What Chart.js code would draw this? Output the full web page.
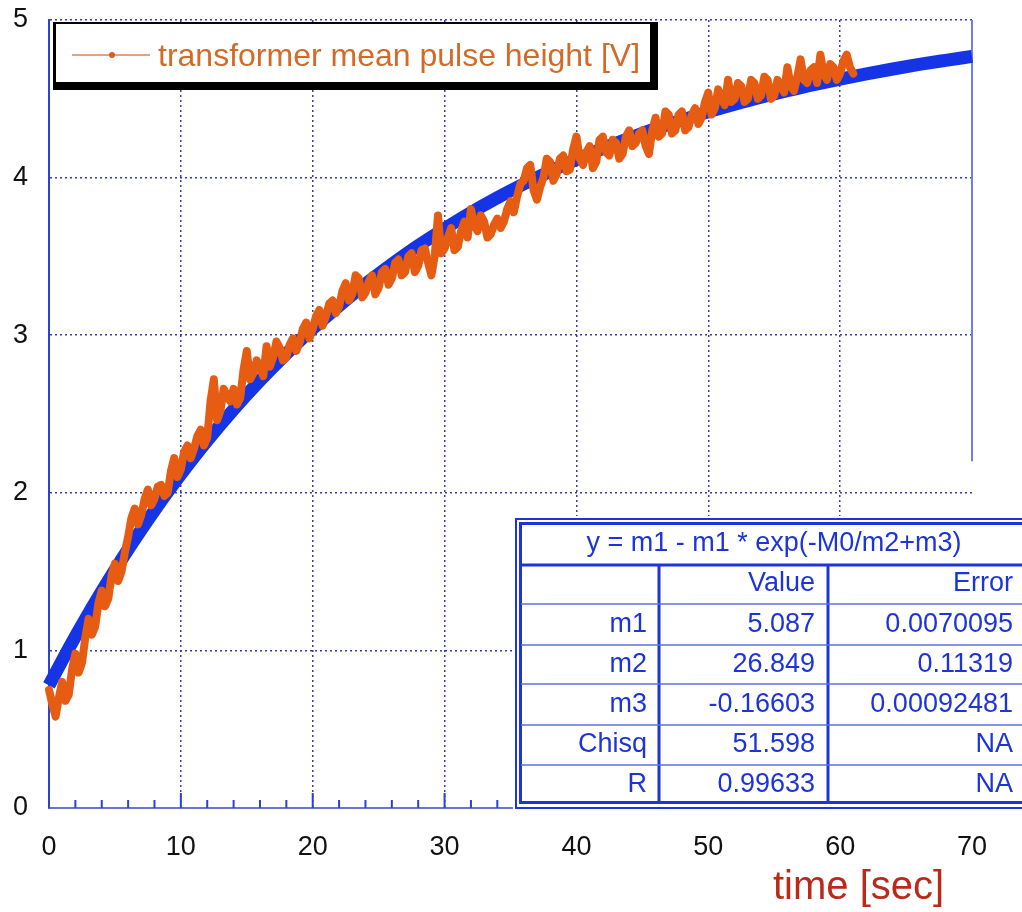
<!DOCTYPE html>
<html><head><meta charset="utf-8">
<script src="https://cdn.jsdelivr.net/npm/chart.js@4/dist/chart.umd.min.js"></script>
<style>html,body{margin:0;padding:0;background:#fff}canvas{display:block}</style>
</head><body>
<canvas id="c" width="1022" height="912"></canvas>
<script>
// ---- data ----
const pulseTime = [
  0,0.25,0.5,0.75, 1,1.25,1.5,1.75, 2,2.25,2.5,2.75, 3,3.25,3.5,3.75, 4,4.25,4.5,4.75,
  5,5.25,5.5,5.75, 6,6.25,6.5,6.75, 7,7.25,7.5,7.75, 8,8.25,8.5,8.75, 9,9.25,9.5,9.75,
  10,10.25,10.5,10.75, 11,11.25,11.5,11.75, 12,12.25,12.5,12.75, 13,13.25,13.5,13.75, 14,14.25,14.5,14.75,
  15,15.25,15.5,15.75, 16,16.25,16.5,16.75, 17,17.25,17.5,17.75, 18,18.25,18.5,18.75, 19,19.25,19.5,19.75,
  20,20.25,20.5,20.75, 21,21.25,21.5,21.75, 22,22.25,22.5,22.75, 23,23.25,23.5,23.75, 24,24.25,24.5,24.75,
  25,25.25,25.5,25.75, 26,26.25,26.5,26.75, 27,27.25,27.5,27.75, 28,28.25,28.5,28.75, 29,29.25,29.5,29.75,
  30,30.25,30.5,30.75, 31,31.25,31.5,31.75, 32,32.25,32.5,32.75, 33,33.25,33.5,33.75, 34,34.25,34.5,34.75,
  35,35.25,35.5,35.75, 36,36.25,36.5,36.75, 37,37.25,37.5,37.75, 38,38.25,38.5,38.75, 39,39.25,39.5,39.75,
  40,40.25,40.5,40.75, 41,41.25,41.5,41.75, 42,42.25,42.5,42.75, 43,43.25,43.5,43.75, 44,44.25,44.5,44.75,
  45,45.25,45.5,45.75, 46,46.25,46.5,46.75, 47,47.25,47.5,47.75, 48,48.25,48.5,48.75, 49,49.25,49.5,49.75,
  50,50.25,50.5,50.75, 51,51.25,51.5,51.75, 52,52.25,52.5,52.75, 53,53.25,53.5,53.75, 54,54.25,54.5,54.75,
  55,55.25,55.5,55.75, 56,56.25,56.5,56.75, 57,57.25,57.5,57.75, 58,58.25,58.5,58.75, 59,59.25,59.5,59.75,
  60,60.25,60.5,60.75, 61];
const pulseHeight = [
  0.75,0.66,0.58,0.70, 0.80,0.68,0.72,0.88, 0.98,0.86,0.92,1.08, 1.20,1.10,1.15,1.30, 1.38,1.28,1.33,1.48,
  1.55,1.44,1.50,1.62, 1.72,1.84,1.90,1.80, 1.86,1.96,2.02,1.92, 1.96,2.04,2.05,1.98, 2.00,2.14,2.22,2.10,
  2.15,2.26,2.30,2.22, 2.28,2.36,2.40,2.30, 2.35,2.58,2.72,2.46, 2.52,2.66,2.62,2.58, 2.66,2.56,2.60,2.78,
  2.90,2.72,2.76,2.84, 2.80,2.74,2.93,2.80, 2.86,2.96,2.92,2.84, 2.86,2.94,2.98,2.90, 2.95,3.04,3.08,2.98,
  3.04,3.12,3.16,3.06, 3.12,3.20,3.22,3.14, 3.18,3.28,3.33,3.22, 3.26,3.38,3.36,3.24, 3.27,3.34,3.38,3.26,
  3.30,3.40,3.42,3.32, 3.36,3.46,3.48,3.38, 3.40,3.50,3.52,3.40, 3.44,3.54,3.55,3.46, 3.38,3.50,3.76,3.52,
  3.55,3.62,3.68,3.54, 3.56,3.66,3.72,3.62, 3.80,3.70,3.66,3.76, 3.72,3.62,3.64,3.70, 3.74,3.68,3.72,3.80,
  3.85,3.78,3.88,3.96, 3.98,4.06,4.08,3.92, 3.86,3.94,4.00,4.12, 4.10,3.98,4.02,4.12, 4.14,4.04,4.05,4.18,
  4.26,4.12,4.08,4.16, 4.20,4.06,4.10,4.24, 4.26,4.16,4.14,4.24, 4.22,4.12,4.15,4.26, 4.30,4.20,4.22,4.28,
  4.30,4.20,4.15,4.30, 4.38,4.26,4.28,4.42, 4.40,4.28,4.30,4.40, 4.42,4.30,4.32,4.40, 4.44,4.34,4.38,4.48,
  4.54,4.40,4.44,4.56, 4.50,4.46,4.62,4.48, 4.50,4.60,4.58,4.48, 4.50,4.62,4.60,4.50, 4.52,4.64,4.62,4.50,
  4.52,4.62,4.58,4.54, 4.70,4.58,4.55,4.64, 4.75,4.62,4.60,4.68, 4.70,4.60,4.78,4.66, 4.62,4.72,4.70,4.62,
  4.66,4.74,4.78,4.70, 4.66];
const fitTime = [0,1,2,3,4,5,6,7,8,9,10,12,14,16,18,20,22,24,26,28,30,32,34,36,38,40,42,44,46,48,50,52,54,56,58,60,62,64,66,68,70];
const fitValue = [0.778,0.936,1.088,1.234,1.374,1.510,1.641,1.767,1.888,2.005,2.118,
  2.331,2.529,2.712,2.882,3.041,3.187,3.324,3.450,3.568,3.676,3.778,3.872,3.959,4.040,
  4.115,4.185,4.249,4.310,4.365,4.417,4.465,4.510,4.551,4.590,4.625,4.658,4.689,4.718,4.744,4.769];
const xTicks = [0,10,20,30,40,50,60,70];
const yTicks = [0,1,2,3,4,5];
const minorXTicks = [2,4,6,8,12,14,16,18,22,24,26,28,32,34,36,38,42,44,46,48,52,54,56,58,62,64,66,68];
const seriesLabel = 'transformer mean pulse height [V]';
const xTitle = 'time [sec]';
const fitFormula = 'y = m1 - m1 * exp(-M0/m2+m3)';
const fitHeader = ['', 'Value', 'Error'];
const fitParams = ['m1','m2','m3','Chisq','R'];
const fitValues = ['5.087','26.849','-0.16603','51.598','0.99633'];
const fitErrors = ['0.0070095','0.11319','0.00092481','NA','NA'];

// ---- styling ----
const FONT = '"Liberation Sans", Arial, sans-serif';
const ORANGE = '#e65c12';
const BLUE = '#1434e6';
const TABLE_BLUE = '#1c34d8';
const GRID = '#3c3ca8';

const decor = {
  id: 'decor',
  beforeDatasetsDraw(chart) {
    const {ctx, chartArea: a, scales: {x, y}} = chart;
    ctx.save();
    // right frame line
    ctx.strokeStyle = '#6f80d8'; ctx.lineWidth = 2;
    ctx.beginPath(); ctx.moveTo(a.right, a.top); ctx.lineTo(a.right, y.getPixelForValue(2.2)); ctx.stroke();
    // minor / major ticks on bottom axis (pointing inward)
    ctx.strokeStyle = '#2a42d4'; ctx.lineWidth = 2;
    minorXTicks.forEach(v => { const px = x.getPixelForValue(v);
      ctx.beginPath(); ctx.moveTo(px, a.bottom); ctx.lineTo(px, a.bottom - 8); ctx.stroke(); });
    xTicks.forEach(v => { const px = x.getPixelForValue(v);
      ctx.beginPath(); ctx.moveTo(px, a.bottom); ctx.lineTo(px, a.bottom - 15); ctx.stroke(); });
    ctx.restore();
  },
  afterDraw(chart) {
    const {ctx} = chart;
    ctx.save();
    // ---- legend box with heavy shadow ----
    ctx.fillStyle = '#000';
    ctx.fillRect(53, 22, 605, 68);
    ctx.fillStyle = '#fff';
    ctx.fillRect(56, 24, 594, 58);
    ctx.strokeStyle = '#e0824e'; ctx.lineWidth = 1.5;
    ctx.beginPath(); ctx.moveTo(72, 55); ctx.lineTo(150, 55); ctx.stroke();
    ctx.fillStyle = '#d0601c';
    ctx.beginPath(); ctx.arc(112, 55, 3, 0, Math.PI * 2); ctx.fill();
    ctx.fillStyle = '#d36a28';
    ctx.font = '32px ' + FONT;
    ctx.textAlign = 'left'; ctx.textBaseline = 'alphabetic';
    ctx.fillText(seriesLabel, 158, 66);

    // ---- fit table ----
    ctx.fillStyle = '#fff';
    ctx.fillRect(513, 516, 520, 296);
    ctx.strokeStyle = TABLE_BLUE;
    ctx.lineWidth = 2; ctx.strokeRect(516, 519, 540, 289);
    ctx.lineWidth = 3; ctx.strokeRect(520.5, 523.5, 530, 279);
    ctx.beginPath(); ctx.moveTo(520, 565); ctx.lineTo(1030, 565); ctx.stroke();
    ctx.beginPath(); ctx.moveTo(659, 565); ctx.lineTo(659, 803); ctx.moveTo(828, 565); ctx.lineTo(828, 803); ctx.stroke();
    ctx.strokeStyle = '#5a70e2'; ctx.lineWidth = 1.5;
    [604, 645, 684, 725, 765].forEach(yy => { ctx.beginPath(); ctx.moveTo(521, yy); ctx.lineTo(1030, yy); ctx.stroke(); });
    ctx.fillStyle = TABLE_BLUE;
    ctx.font = '27px ' + FONT;
    ctx.textBaseline = 'middle';
    ctx.textAlign = 'center';
    ctx.fillText(fitFormula, 774, 544);
    const rowY = [584, 625, 665, 705, 745, 785];
    ctx.textAlign = 'right';
    ctx.fillText(fitHeader[1], 815, rowY[0]);
    ctx.fillText(fitHeader[2], 1013, rowY[0]);
    fitParams.forEach((p, i) => {
      ctx.fillText(p, 647, rowY[i + 1]);
      ctx.fillText(fitValues[i], 815, rowY[i + 1]);
      ctx.fillText(fitErrors[i], 1013, rowY[i + 1]);
    });

    // ---- x axis title ----
    ctx.fillStyle = '#bb2a18';
    ctx.font = '40px ' + FONT;
    ctx.textAlign = 'left'; ctx.textBaseline = 'alphabetic';
    ctx.fillText(xTitle, 773, 899);
    ctx.restore();
  }
};

new Chart(document.getElementById('c'), {
  type: 'scatter',
  data: {
    datasets: [
      {
        label: seriesLabel,
        data: pulseTime.map((t, i) => ({x: t, y: pulseHeight[i]})),
        showLine: true,
        borderColor: ORANGE,
        backgroundColor: ORANGE,
        borderWidth: 8,
        borderJoinStyle: 'round',
        borderCapStyle: 'round',
        pointRadius: 0,
        tension: 0,
        clip: false
      },
      {
        label: 'fit',
        data: fitTime.map((t, i) => ({x: t, y: fitValue[i]})),
        showLine: true,
        borderColor: BLUE,
        backgroundColor: BLUE,
        borderWidth: 13,
        borderCapStyle: 'butt',
        pointRadius: 0,
        cubicInterpolationMode: 'monotone',
        clip: false
      }
    ]
  },
  options: {
    responsive: false,
    animation: false,
    devicePixelRatio: 1,
    layout: {padding: {left: 0, right: 50, top: 20, bottom: 0}},
    plugins: {legend: {display: false}, tooltip: {enabled: false}},
    scales: {
      x: {
        type: 'linear', min: 0, max: 70,
        afterFit: s => { s.height = 104; },
        afterBuildTicks: s => { s.ticks = xTicks.map(v => ({value: v})); },
        ticks: {color: '#111', font: {family: FONT, size: 27}, padding: 23, maxRotation: 0, autoSkip: false},
        grid: {color: ctx => (ctx.tick && ctx.tick.value === 70 ? 'rgba(0,0,0,0)' : GRID), lineWidth: 1.5, drawTicks: false},
        border: {color: '#6677d8', width: 2, dash: [2, 3]}
      },
      y: {
        type: 'linear', min: 0, max: 5,
        afterFit: s => { s.width = 49; s.paddingTop = 0; s.paddingBottom = 0; },
        afterBuildTicks: s => { s.ticks = yTicks.map(v => ({value: v})); },
        ticks: {color: '#111', font: {family: FONT, size: 27}, padding: 21},
        grid: {color: GRID, lineWidth: 1.5, drawTicks: false},
        border: {color: '#2a44d0', width: 2, dash: [2, 3]}
      }
    }
  },
  plugins: [decor]
});
</script>
</body></html>
